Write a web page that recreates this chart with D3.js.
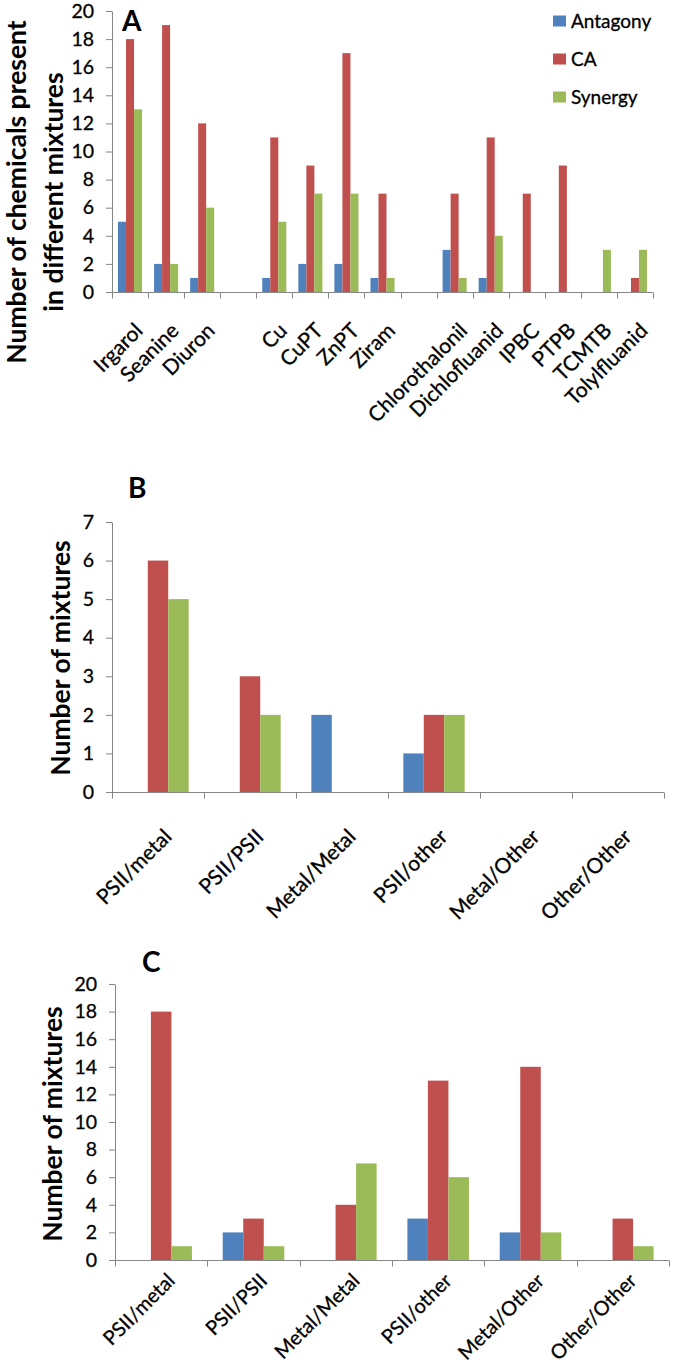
<!DOCTYPE html>
<html><head><meta charset="utf-8">
<script src="https://cdn.jsdelivr.net/npm/d3@7"></script>
<style>
html,body{margin:0;padding:0;background:#fff;}
svg{display:block;font-family:Lato, sans-serif;}
</style></head><body>
<svg id="chart" width="673" height="1366"></svg>
<script>
// ---------- data ----------
const seriesNames = ["Antagony", "CA", "Synergy"];

const chemicals = ["Irgarol", "Seanine", "Diuron", "", "Cu", "CuPT", "ZnPT", "Ziram", "",
  "Chlorothalonil", "Dichlofluanid", "IPBC", "PTPB", "TCMTB", "Tolylfluanid"];
const chemAntagony = [5, 2, 1, 0, 1, 2, 2, 1, 0, 3, 1, 0, 0, 0, 0];
const chemCA       = [18, 19, 12, 0, 11, 9, 17, 7, 0, 7, 11, 7, 9, 0, 1];
const chemSynergy  = [13, 2, 6, 0, 5, 7, 7, 1, 0, 1, 4, 0, 0, 3, 3];

const mixtureTypes = ["PSII/metal", "PSII/PSII", "Metal/Metal", "PSII/other", "Metal/Other", "Other/Other"];
const mixB_Antagony = [0, 0, 2, 1, 0, 0];
const mixB_CA       = [6, 3, 0, 2, 0, 0];
const mixB_Synergy  = [5, 2, 0, 2, 0, 0];
const mixC_Antagony = [0, 2, 0, 3, 2, 0];
const mixC_CA       = [18, 3, 4, 13, 14, 3];
const mixC_Synergy  = [1, 1, 7, 6, 2, 1];

const ticksA = [0, 2, 4, 6, 8, 10, 12, 14, 16, 18, 20];
const ticksB = [0, 1, 2, 3, 4, 5, 6, 7];
const ticksC = [0, 2, 4, 6, 8, 10, 12, 14, 16, 18, 20];

const yTitleA = ["Number of chemicals present", "in different mixtures"];
const yTitleBC = ["Number of mixtures"];

// ---------- style ----------
const colors = { Antagony: "#4F81BD", CA: "#C0504D", Synergy: "#9BBB59" };
const axisColor = "#868686";
const FONT = "Lato, sans-serif";

const svg = d3.select("#chart");

function drawPanel(p) {
  const g = svg.append("g");
  const x = d3.scaleBand().domain(d3.range(p.cats.length)).range([p.left, p.right]);
  const bw = x.bandwidth() / 4.5;
  const xs = d3.scaleBand().domain(seriesNames).range([0.75 * bw, 3.75 * bw]);
  const y = d3.scaleLinear().domain([0, p.max]).range([p.bottom, p.top]);

  const rows = p.cats.map((c, i) => ({ i, vals: seriesNames.map((s, k) => ({ s, v: p.values[k][i] })) }));
  g.append("g").selectAll("g").data(rows).join("g")
    .attr("transform", d => `translate(${x(d.i)},0)`)
    .selectAll("rect").data(d => d.vals.filter(v => v.v > 0)).join("rect")
    .attr("x", d => xs(d.s)).attr("width", xs.bandwidth())
    .attr("y", d => y(d.v)).attr("height", d => y(0) - y(d.v))
    .attr("fill", d => colors[d.s]);

  // y axis
  const ya = g.append("g").attr("transform", `translate(${p.left},0)`)
    .call(d3.axisLeft(y).tickValues(p.ticks).tickSize(6).tickSizeOuter(0).tickPadding(12).tickFormat(d3.format("d")))
    .attr("font-family", FONT).attr("font-size", 19.5);
  ya.select(".domain").attr("stroke", axisColor);
  ya.selectAll(".tick line").attr("stroke", axisColor);
  ya.selectAll(".tick text").attr("fill", "#000").attr("stroke", "#000").attr("stroke-width", 0.3);

  // x axis
  const y0 = Math.round(y(0)) + 0.5;
  g.append("line").attr("x1", p.left).attr("x2", p.right).attr("y1", y0).attr("y2", y0)
    .attr("stroke", axisColor);
  const bounds = d3.range(p.cats.length + 1).map(i => i < p.cats.length ? x(i) : p.right);
  g.append("g").selectAll("line").data(bounds).join("line")
    .attr("x1", d => Math.round(d) + 0.5).attr("x2", d => Math.round(d) + 0.5)
    .attr("y1", y0).attr("y2", y0 + 6).attr("stroke", axisColor);
  g.append("g").selectAll("text").data(p.cats).join("text")
    .attr("transform", (d, i) => `translate(${x(i) + x.bandwidth() / 2 + p.ldx},${y(0) + p.ldy}) rotate(-45)`)
    .attr("text-anchor", "end").attr("font-family", FONT).attr("font-size", p.lfs)
    .attr("fill", "#000").attr("stroke", "#000").attr("stroke-width", 0.3).text(d => d);

  // y title
  p.title.forEach((t, k) => {
    g.append("text")
      .attr("transform", `translate(${p.titleX[k]},${p.titleY}) rotate(-90)`)
      .attr("text-anchor", "middle").attr("font-family", FONT).attr("font-weight", "bold")
      .attr("font-size", 26.5).attr("fill", "#000").text(t);
  });

  // panel letter
  g.append("text").attr("x", p.letterX).attr("y", p.letterY)
    .attr("font-family", FONT).attr("font-weight", "bold").attr("font-size", 28)
    .attr("fill", "#000").text(p.letter);
  return g;
}

const gA = drawPanel({
  cats: chemicals, values: [chemAntagony, chemCA, chemSynergy], ticks: ticksA, max: 20,
  left: 112, right: 653, top: 11, bottom: 292, ldx: 14, ldy: 40, lfs: 21,
  title: yTitleA, titleX: [26, 63], titleY: 192, letter: "A", letterX: 122, letterY: 31
});
drawPanel({
  cats: mixtureTypes, values: [mixB_Antagony, mixB_CA, mixB_Synergy], ticks: ticksB, max: 7,
  left: 112, right: 664, top: 522, bottom: 792, ldx: 15, ldy: 46, lfs: 21,
  title: yTitleBC, titleX: [70], titleY: 658, letter: "B", letterX: 128, letterY: 498
});
drawPanel({
  cats: mixtureTypes, values: [mixC_Antagony, mixC_CA, mixC_Synergy], ticks: ticksC, max: 20,
  left: 115, right: 669, top: 984, bottom: 1260, ldx: 15, ldy: 22, lfs: 20,
  title: yTitleBC, titleX: [62], titleY: 1124, letter: "C", letterX: 142, letterY: 972
});

// legend (panel A)
const legend = gA.append("g").selectAll("g").data(seriesNames).join("g")
  .attr("transform", (d, i) => `translate(553,${21 + i * 38})`);
legend.append("rect").attr("x", 0).attr("y", -5.5).attr("width", 13).attr("height", 11)
  .attr("fill", d => colors[d]);
legend.append("text").attr("x", 18).attr("y", 0).attr("dy", "0.35em")
  .attr("font-family", FONT).attr("font-size", 19).attr("fill", "#000")
  .attr("stroke", "#000").attr("stroke-width", 0.3).text(d => d);
</script>
</body></html>
